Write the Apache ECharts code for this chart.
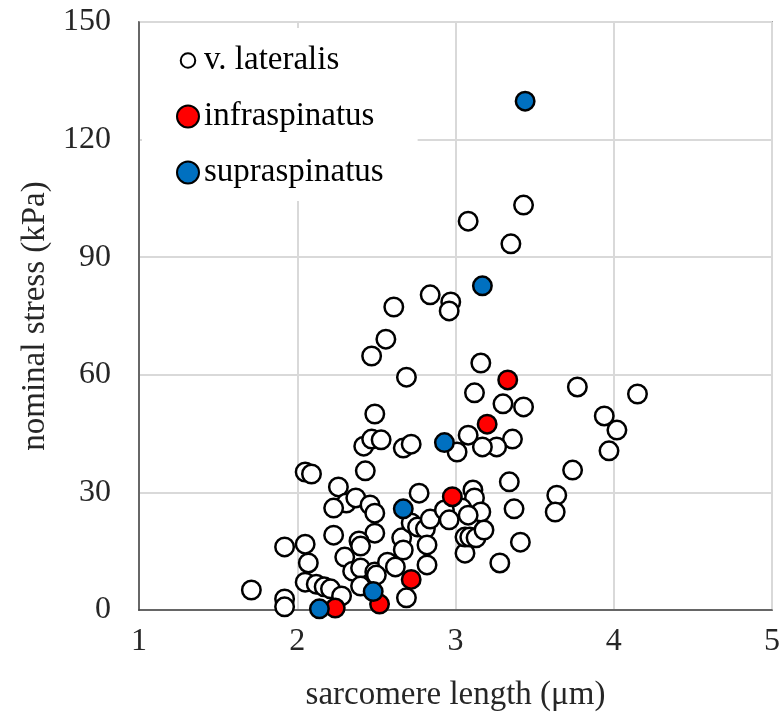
<!DOCTYPE html>
<html>
<head>
<meta charset="utf-8">
<script src="https://cdn.jsdelivr.net/npm/echarts@6/dist/echarts.min.js"></script>
<style>
  html, body { margin: 0; padding: 0; background: #fff; }
  #chart { width: 783px; height: 719px; }
</style>
</head>
<body>
<div id="chart"></div>
<script>
// --- data: [sarcomere length (um), nominal stress (kPa)] ---
const lateralis = [
    [3.43, 103.3], [3.08, 99.2], [3.35, 93.4], [2.84, 80.4], [2.97, 78.6], [2.96, 76.3],
    [2.61, 77.3], [2.56, 69.1], [2.47, 64.8], [2.69, 59.4], [3.16, 63.0], [3.12, 55.4],
    [3.30, 52.6], [3.43, 51.8], [3.77, 56.9], [4.15, 55.1], [3.94, 49.5], [4.02, 45.9],
    [3.97, 40.6], [3.74, 35.7], [3.64, 29.3], [3.63, 25.0], [3.41, 17.3], [3.28, 12.0],
    [3.37, 25.8], [3.34, 32.7], [3.36, 43.6], [3.26, 41.6], [3.17, 41.6], [3.08, 44.6],
    [3.01, 40.3], [3.06, 14.5], [2.49, 50.0], [2.42, 41.8], [2.47, 43.6], [2.53, 43.4],
    [2.67, 41.3], [2.72, 42.3], [2.43, 35.5], [2.05, 35.2], [2.09, 34.7], [2.26, 31.4],
    [2.31, 27.3], [2.37, 28.6], [2.23, 26.0], [2.46, 26.8], [2.49, 24.7], [2.49, 19.6],
    [2.39, 17.6], [2.40, 16.3], [2.30, 13.5], [2.35, 9.9], [2.40, 10.7], [2.49, 9.7],
    [1.92, 16.1], [2.05, 16.8], [2.07, 12.0], [2.05, 7.1], [2.12, 6.6], [2.17, 5.9],
    [2.21, 5.4], [2.28, 3.6], [1.71, 5.1], [1.92, 2.8], [1.92, 0.8], [2.57, 12.2],
    [2.62, 11.0], [2.66, 18.4], [2.67, 15.3], [2.72, 22.2], [2.76, 21.2], [2.81, 20.7],
    [2.84, 23.2], [2.82, 16.6], [2.82, 11.5], [2.69, 3.1], [2.50, 8.9], [2.77, 29.8],
    [3.11, 30.6], [3.12, 28.6], [3.04, 26.0], [3.16, 25.0], [3.08, 24.2], [2.93, 25.5],
    [2.96, 23.0], [3.06, 18.6], [3.09, 18.6], [3.13, 18.4], [3.18, 20.4], [2.23, 19.1],
    [2.40, 6.1]
];
const infraspinatus = [
    [3.33, 58.7], [3.20, 47.4], [2.98, 28.9], [2.72, 7.8], [2.52, 1.5], [2.24, 0.5]
];
const supraspinatus = [
    [3.44, 129.8], [3.17, 82.7], [2.93, 42.7], [2.67, 25.8], [2.48, 4.7], [2.14, 0.3]
];
const xTicks = [1, 2, 3, 4, 5];
const yTicks = [0, 30, 60, 90, 120, 150];

const serif = '"Liberation Serif", "DejaVu Serif", serif';
const chart = echarts.init(document.getElementById('chart'));

function scatter(name, data, color) {
    return {
        name: name,
        type: 'scatter',
        data: data,
        symbol: 'circle',
        symbolSize: 18.5,
        itemStyle: { color: color, borderColor: '#000', borderWidth: 2.5, opacity: 1 },
        emphasis: { disabled: true }
    };
}

chart.setOption({
    animation: false,
    grid: {
        left: 139, right: 6, top: 22, bottom: 109,
        show: true, borderColor: '#595959', borderWidth: 1.5, backgroundColor: 'transparent'
    },
    legend: {
        orient: 'vertical',
        left: 142, top: 28,
        backgroundColor: '#fff',
        padding: [16, 34, 12, 34],
        itemGap: 23,
        itemWidth: 22, itemHeight: 22,
        textStyle: { fontFamily: serif, fontSize: 33, color: '#000' },
        data: [
            { name: 'v. lateralis', icon: 'path://M0,0M20,20M10,3.4A6.6,6.6,0,1,1,9.99,3.4Z' },
            { name: 'infraspinatus', icon: 'circle' },
            { name: 'supraspinatus', icon: 'circle' }
        ]
    },
    xAxis: {
        type: 'value',
        min: xTicks[0], max: xTicks[xTicks.length - 1], interval: 1,
        name: 'sarcomere length (\u03bcm)',
        nameLocation: 'middle', nameGap: 69,
        nameTextStyle: { fontFamily: serif, fontSize: 33, color: '#262626' },
        axisLine: { show: true, lineStyle: { color: '#404040', width: 1.5 } },
        axisTick: { show: false },
        axisLabel: { fontFamily: serif, fontSize: 32, color: '#262626', margin: 16 },
        splitLine: { show: true, lineStyle: { color: '#d9d9d9', width: 2 } }
    },
    yAxis: {
        type: 'value',
        min: yTicks[0], max: yTicks[yTicks.length - 1], interval: 30,
        name: 'nominal stress (kPa)',
        nameLocation: 'middle', nameGap: 84,
        nameTextStyle: { fontFamily: serif, fontSize: 33, color: '#262626' },
        axisLine: { show: true, lineStyle: { color: '#404040', width: 1.5 } },
        axisTick: { show: false },
        axisLabel: { fontFamily: serif, fontSize: 32, color: '#262626', margin: 28 },
        splitLine: { show: true, lineStyle: { color: '#d9d9d9', width: 2 } }
    },
    series: [
        scatter('v. lateralis', lateralis, '#fff'),
        scatter('infraspinatus', infraspinatus, '#ff0000'),
        scatter('supraspinatus', supraspinatus, '#0070c0')
    ]
});
</script>
</body>
</html>
